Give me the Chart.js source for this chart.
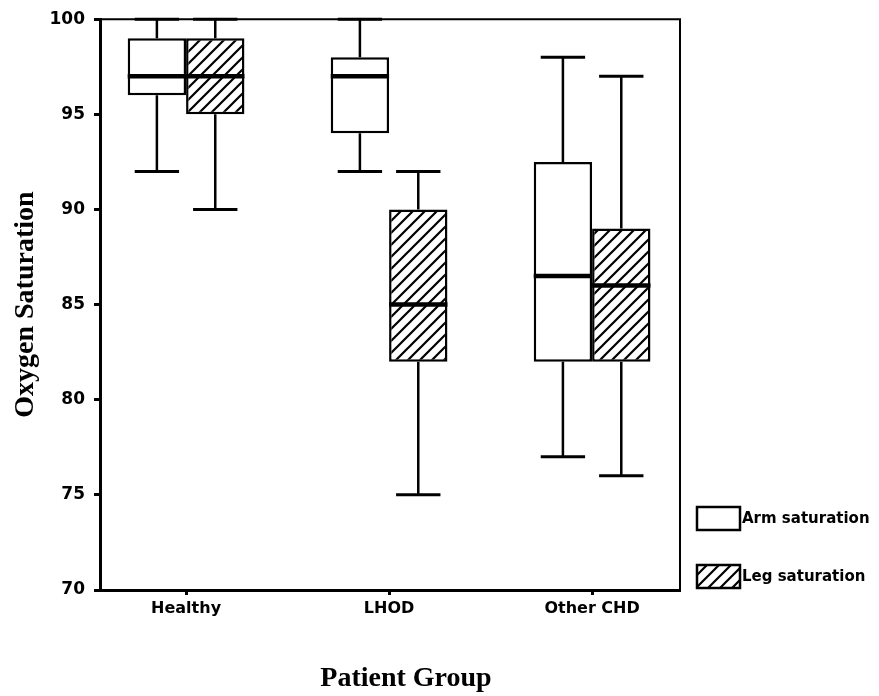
<!DOCTYPE html>
<html>
<head>
<meta charset="utf-8">
<script src="https://cdn.jsdelivr.net/npm/chart.js@4.4.0/dist/chart.umd.min.js"></script>
<style>
html,body{margin:0;padding:0;background:#ffffff;}
canvas{display:block;}
</style>
</head>
<body>
<canvas id="chart" width="879" height="696"></canvas>
<script>
// ---- data ----
const categories = ['Healthy', 'LHOD', 'Other CHD'];
const yTickValues = [70, 75, 80, 85, 90, 95, 100];

const armQ1     = [96, 94, 82];
const armQ3     = [99, 98, 92.5];
const armMedian = [97, 97, 86.5];
const armMin    = [92, 92, 77];
const armMax    = [100, 100, 98];

const legQ1     = [95, 82, 82];
const legQ3     = [99, 90, 89];
const legMedian = [97, 85, 86];
const legMin    = [90, 75, 76];
const legMax    = [100, 92, 97];

const seriesLabels = ['Arm saturation', 'Leg saturation'];
const xTitle = 'Patient Group';
const yTitle = 'Oxygen Saturation';

// ---- hatch pattern ----
function makeHatch() {
  const s = 12;
  const c = document.createElement('canvas');
  c.width = s; c.height = s;
  const g = c.getContext('2d');
  g.fillStyle = '#ffffff';
  g.fillRect(0, 0, s, s);
  g.strokeStyle = '#000000';
  g.lineWidth = 2.2;
  g.beginPath();
  g.moveTo(-2, s + 2); g.lineTo(s + 2, -2);
  g.moveTo(-4, 4); g.lineTo(4, -4);
  g.moveTo(s - 4, s + 4); g.lineTo(s + 4, s - 4);
  g.stroke();
  return g.createPattern(c, 'repeat');
}
const hatch = makeHatch();

function boxData(q1, q3) {
  return categories.map((c, i) => ({ x: i + 1, y: [q1[i], q3[i]] }));
}

// ---- whiskers + medians via the chart's scales ----
const boxExtras = {
  id: 'boxExtras',
  afterDatasetsDraw(chart) {
    const ctx = chart.ctx;
    const yS = chart.scales.y;
    chart.data.datasets.forEach((ds, di) => {
      const meta = chart.getDatasetMeta(di);
      meta.data.forEach((bar, i) => {
        const x = bar.x;
        const w = bar.width;
        const half = w / 2;
        const capHalf = w * 0.38;
        const yQ1 = yS.getPixelForValue(ds.q1[i]);
        const yQ3 = yS.getPixelForValue(ds.q3[i]);
        const yMin = yS.getPixelForValue(ds.whiskerLow[i]);
        const yMax = yS.getPixelForValue(ds.whiskerHigh[i]);
        const yMed = yS.getPixelForValue(ds.median[i]);
        ctx.save();
        ctx.strokeStyle = '#000';
        ctx.lineCap = 'butt';
        ctx.lineWidth = 2.5;
        ctx.beginPath();
        ctx.moveTo(x, yQ3); ctx.lineTo(x, yMax);
        ctx.moveTo(x, yQ1); ctx.lineTo(x, yMin);
        ctx.stroke();
        ctx.lineWidth = 3;
        ctx.beginPath();
        ctx.moveTo(x - capHalf, yMax); ctx.lineTo(x + capHalf, yMax);
        ctx.moveTo(x - capHalf, yMin); ctx.lineTo(x + capHalf, yMin);
        ctx.stroke();
        ctx.lineWidth = 4.5;
        ctx.beginPath();
        ctx.moveTo(x - half, yMed); ctx.lineTo(x + half, yMed);
        ctx.stroke();
        ctx.restore();
      });
    });
  }
};

// ---- frame (top + right) ----
const frame = {
  id: 'frame',
  beforeDatasetsDraw(chart) {
    const a = chart.chartArea;
    const ctx = chart.ctx;
    ctx.save();
    ctx.strokeStyle = '#000';
    ctx.lineWidth = 2;
    ctx.beginPath();
    ctx.moveTo(a.left, a.top);
    ctx.lineTo(a.right, a.top);
    ctx.lineTo(a.right, a.bottom);
    ctx.stroke();
    ctx.restore();
  }
};

// ---- legend + x title ----
const sideLegend = {
  id: 'sideLegend',
  afterDraw(chart) {
    const a = chart.chartArea;
    const ctx = chart.ctx;
    chart.data.datasets.forEach((ds, i) => {
      const bx = a.right + 17;
      const by = a.bottom - 83 + i * 58;
      ctx.save();
      ctx.fillStyle = ds.backgroundColor;
      ctx.fillRect(bx, by, 43, 23);
      ctx.lineWidth = 2.5;
      ctx.strokeStyle = '#000';
      ctx.strokeRect(bx, by, 43, 23);
      ctx.fillStyle = '#000';
      ctx.font = 'bold 15px "DejaVu Sans"';
      ctx.textBaseline = 'middle';
      ctx.textAlign = 'left';
      ctx.fillText(ds.label, bx + 45, by + 12);
      ctx.restore();
    });
    // x-axis title
    ctx.save();
    ctx.fillStyle = '#000';
    ctx.font = 'bold 28px "Liberation Serif"';
    ctx.textAlign = 'center';
    ctx.textBaseline = 'middle';
    ctx.fillText(xTitle, (a.left + a.right) / 2 + 16, a.bottom + 89);
    ctx.restore();
  }
};

new Chart(document.getElementById('chart'), {
  type: 'bar',
  data: {
    datasets: [
      {
        label: seriesLabels[0],
        data: boxData(armQ1, armQ3),
        q1: armQ1, q3: armQ3, median: armMedian, whiskerLow: armMin, whiskerHigh: armMax,
        backgroundColor: '#ffffff',
        borderColor: '#000000',
        borderWidth: 2.5,
        borderSkipped: false
      },
      {
        label: seriesLabels[1],
        data: boxData(legQ1, legQ3),
        q1: legQ1, q3: legQ3, median: legMedian, whiskerLow: legMin, whiskerHigh: legMax,
        backgroundColor: hatch,
        borderColor: '#000000',
        borderWidth: 2.5,
        borderSkipped: false
      }
    ]
  },
  options: {
    responsive: false,
    animation: false,
    devicePixelRatio: 1,
    layout: { padding: { top: 15, right: 199, bottom: 0, left: 0 } },
    datasets: { bar: { categoryPercentage: 0.575, barPercentage: 1 } },
    plugins: {
      legend: { display: false },
      tooltip: { enabled: false }
    },
    scales: {
      x: {
        type: 'linear',
        offset: false,
        min: 0.576,
        max: 3.433,
        afterBuildTicks: (s) => { s.ticks = categories.map((c, i) => ({ value: i + 1 })); },
        afterFit: (s) => { s.height = 106; },
        ticks: {
          autoSkip: false,
          maxRotation: 0,
          color: '#000',
          padding: 4,
          font: { family: 'DejaVu Sans', weight: 'bold', size: 16 },
          callback: (v) => categories[Math.round(v) - 1]
        },
        grid: { display: true, drawOnChartArea: false, drawTicks: true, tickLength: 5, tickWidth: 3, tickColor: '#000', offset: false },
        border: { display: true, color: '#000', width: 3 },
        title: { display: false, text: xTitle }
      },
      y: {
        min: 70,
        max: 100,
        afterBuildTicks: (s) => { s.ticks = yTickValues.map(v => ({ value: v })); },
        afterFit: (s) => { s.width = 100; },
        ticks: {
          color: '#000',
          padding: 9,
          font: { family: 'DejaVu Sans', weight: 'bold', size: 17 }
        },
        grid: { display: true, drawOnChartArea: false, drawTicks: true, tickLength: 6, tickWidth: 3, tickColor: '#000' },
        border: { display: true, color: '#000', width: 3 },
        title: {
          display: true,
          text: yTitle,
          color: '#000',
          font: { family: 'Liberation Serif', weight: 'bold', size: 28 },
          padding: { top: 9, bottom: 0 }
        }
      }
    }
  },
  plugins: [frame, boxExtras, sideLegend]
});
</script>
</body>
</html>
